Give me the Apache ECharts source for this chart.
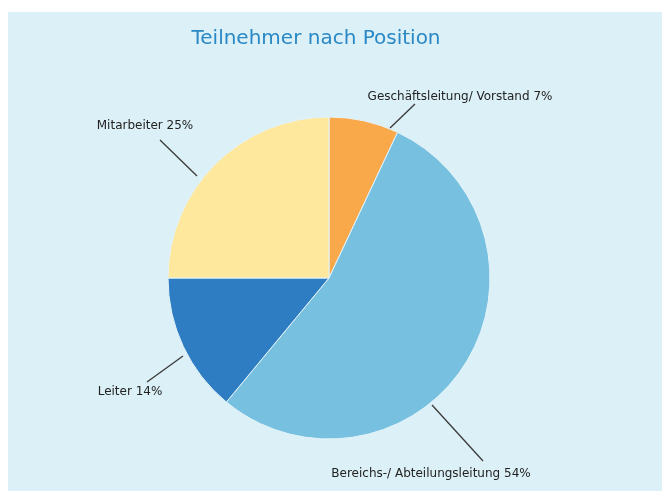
<!DOCTYPE html>
<html>
<head>
<meta charset="utf-8">
<script src="https://cdn.jsdelivr.net/npm/echarts@6/dist/echarts.min.js"></script>
<style>
  html, body { margin: 0; padding: 0; background: #fff; }
  #main { width: 662px; height: 491px; }
</style>
</head>
<body>
<div id="main"></div>
<script>
// Daten
const categories = ['Geschäftsleitung/ Vorstand', 'Bereichs-/ Abteilungsleitung', 'Leiter', 'Mitarbeiter']
const values = [7, 54, 14, 25]
const colors = ['#f9a84a', '#77c0e0', '#2e7cc1', '#fee89e']

// Beschriftungen: Mittelpunkt des Textes und Führungslinie
const labelPlacement = [
  { x: 460, y: 97, from: [390, 128], to: [415, 104] },
  { x: 431, y: 474, from: [432, 405], to: [483, 461] },
  { x: 130, y: 392, from: [183, 356], to: [147, 382] },
  { x: 145, y: 126, from: [197, 176], to: [160, 140] }
]

const chart = echarts.init(document.getElementById('main'))
chart.setOption({
  backgroundColor: '#ffffff',
  animation: false,
  graphic: [{
    type: 'rect',
    z: -10,
    shape: { x: 8, y: 12, width: 654, height: 479 },
    style: { fill: '#dcf0f7' }
  }],
  title: {
    text: 'Teilnehmer nach Position',
    left: 311,
    top: 24,
    textAlign: 'center',
    textStyle: {
      color: '#2a88c4',
      fontFamily: 'DejaVu Sans',
      fontWeight: 'normal',
      fontSize: 20
    }
  },
  series: [{
    type: 'pie',
    center: [329, 278],
    radius: 161,
    startAngle: 90,
    clockwise: true,
    color: colors,
    itemStyle: { borderColor: '#e4f4fa', borderWidth: 1 },
    label: {
      formatter: '{b} {d}%',
      color: '#222',
      fontFamily: 'DejaVu Sans',
      fontSize: 12,
      overflow: 'none'
    },
    labelLine: {
      show: true,
      length: 20,
      length2: 0,
      lineStyle: { color: '#3a3a3a', width: 1.3 }
    },
    labelLayout: function (params) {
      const p = labelPlacement[params.dataIndex]
      return {
        x: p.x,
        y: p.y,
        align: 'center',
        verticalAlign: 'middle',
        width: 260,
        labelLinePoints: [p.from, p.to, p.to]
      }
    },
    emphasis: { disabled: true },
    data: categories.map((name, i) => ({ name: name, value: values[i] }))
  }]
})
</script>
</body>
</html>
